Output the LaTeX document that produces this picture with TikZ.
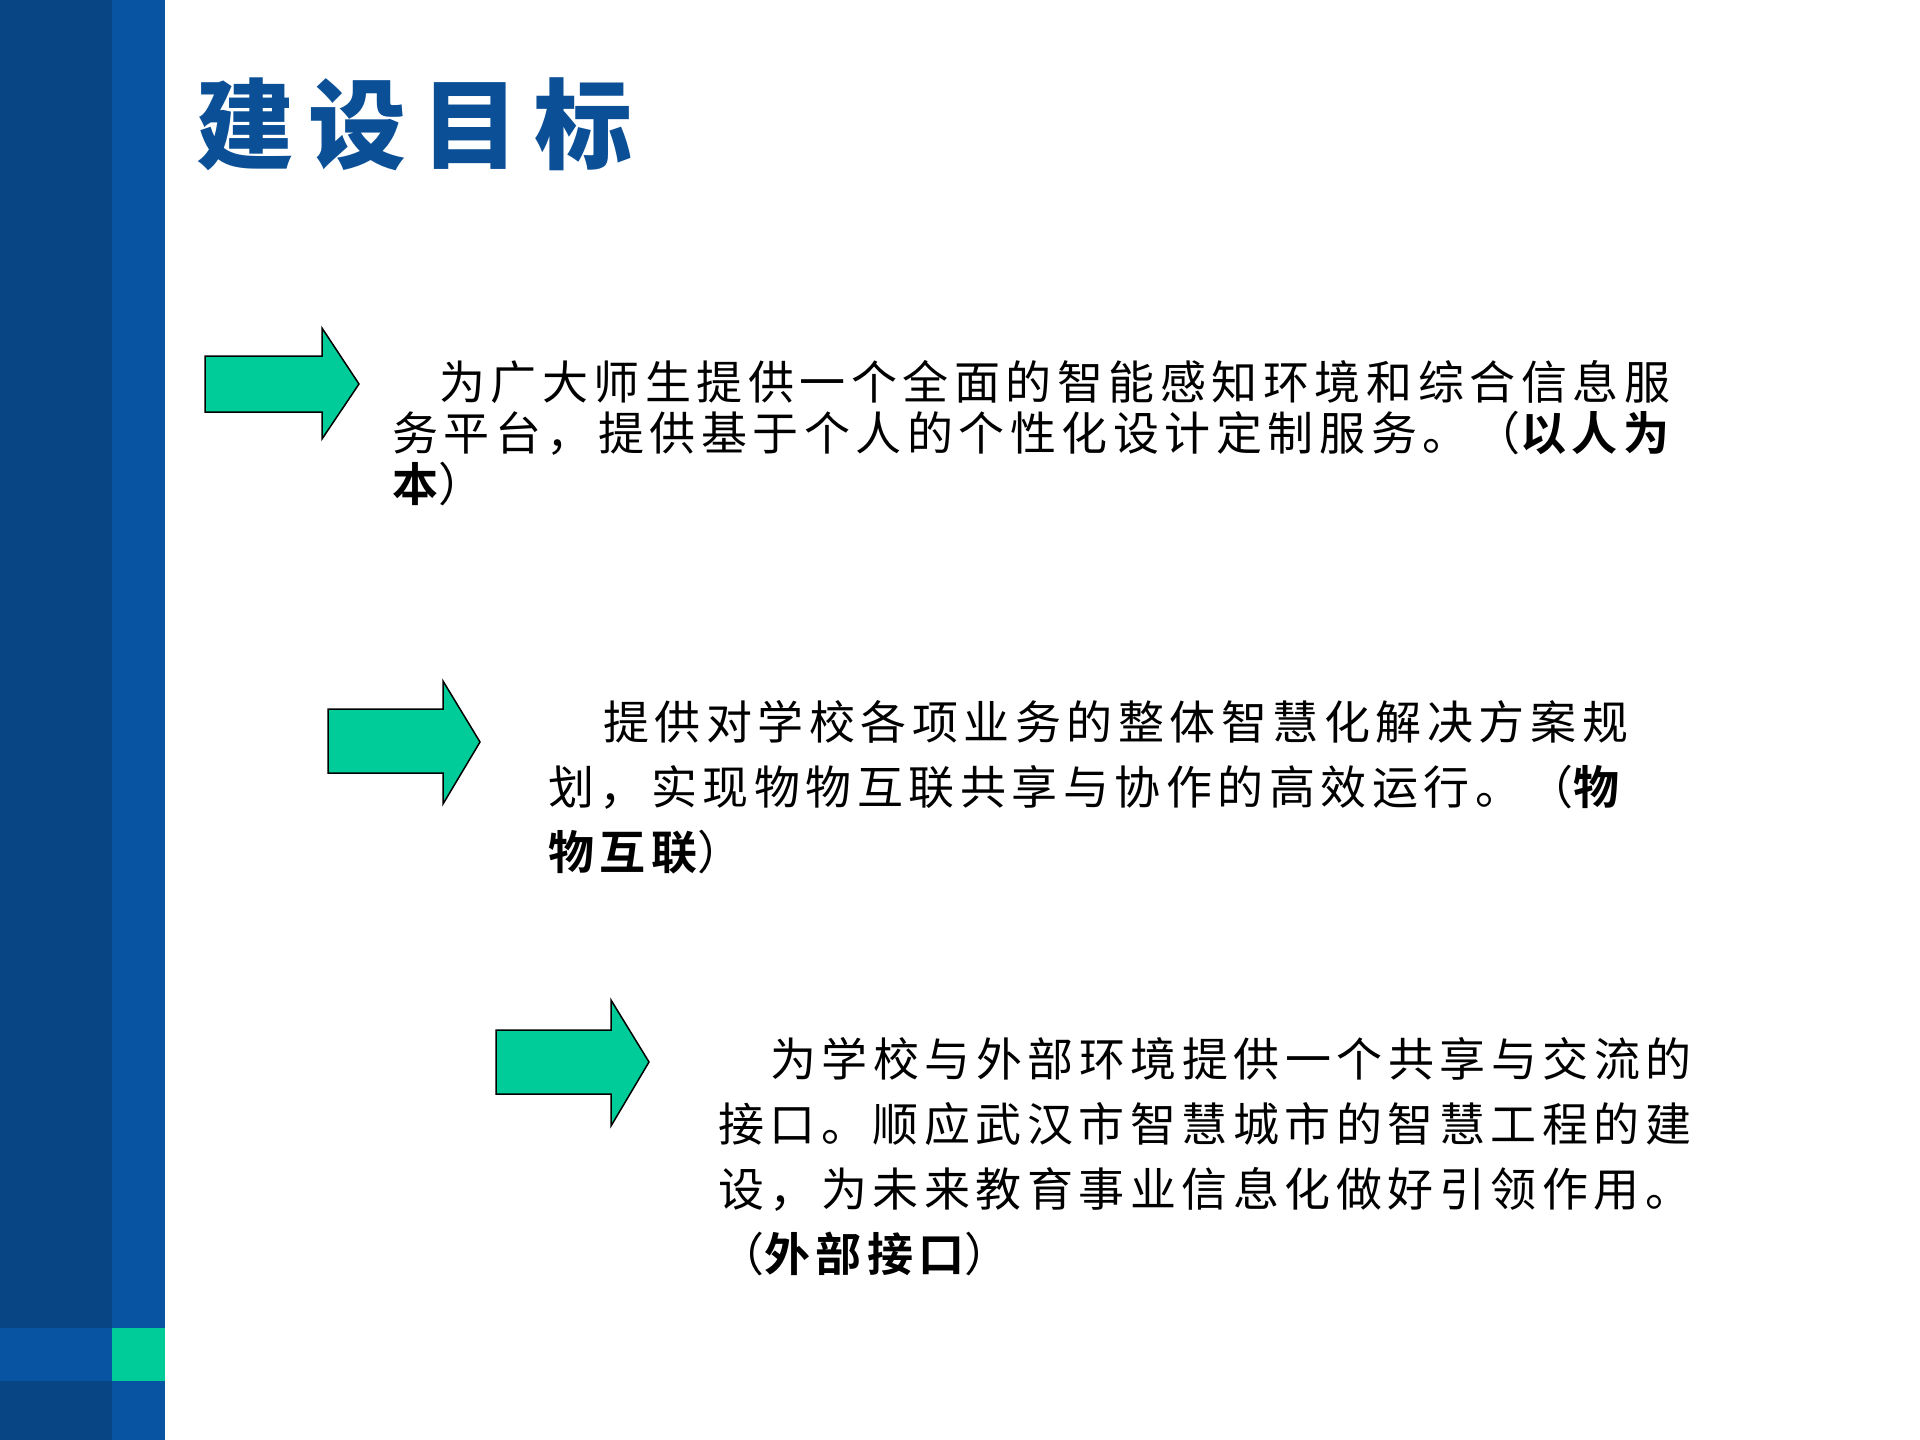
\documentclass[tikz,border=0pt]{standalone}
\usepackage{fontspec}
\newfontfamily\cjk[LetterSpace=12]{Noto Sans CJK SC}
\newfontfamily\cjkb[LetterSpace=12]{Noto Sans CJK SC Bold}
\newfontfamily\cjkt[LetterSpace=15]{Noto Sans CJK SC Black}
\definecolor{dkblue}{HTML}{084584}
\definecolor{ltblue}{HTML}{0953A3}
\definecolor{grn}{HTML}{00CC99}
\definecolor{ttl}{HTML}{0B4F96}
\begin{document}
\begin{tikzpicture}[x=1pt,y=-1pt,
  ln/.style={anchor=west,inner sep=0pt,font=\fontsize{46}{50}\cjk},
  arr/.style={fill=grn,draw=black,line width=1.5pt}]
\useasboundingbox (0,0) rectangle (1920,1440);
\fill[white] (0,0) rectangle (1920,1440);
\fill[dkblue] (0,0) rectangle (112,1440);
\fill[ltblue] (112,0) rectangle (165,1440);
\fill[ltblue] (0,1328) rectangle (112,1381);
\fill[grn] (112,1328) rectangle (165,1381);
\node[anchor=west,inner sep=0pt,text=ttl,font=\fontsize{98}{100}\cjkt] (title) at (196,124) {建设目标};
% arrows
\draw[arr] (205,356) -- (322,356) -- (322,328) -- (359,384) -- (322,439) -- (322,412) -- (205,412) -- cycle;
\draw[arr] (328,709) -- (443,709) -- (443,681) -- (480,742) -- (443,804) -- (443,773) -- (328,773) -- cycle;
\draw[arr] (496,1030) -- (611,1030) -- (611,1000) -- (649,1062) -- (611,1126) -- (611,1094) -- (496,1094) -- cycle;
% text 1
\node[ln] (a1) at (439,382) {为广大师生提供一个全面的智能感知环境和综合信息服};
\node[ln] (a2) at (392,433) {务平台，提供基于个人的个性化设计定制服务。（{\cjkb 以人为}};
\node[ln] (a3) at (392,484) {{\cjkb 本}）};
% text 2
\node[ln] (b1) at (603,722) {提供对学校各项业务的整体智慧化解决方案规};
\node[ln] (b2) at (548,787) {划，实现物物互联共享与协作的高效运行。（{\cjkb 物}};
\node[ln] (b3) at (548,852) {{\cjkb 物互联}）};
% text 3
\node[ln] (c1) at (770,1059) {为学校与外部环境提供一个共享与交流的};
\node[ln] (c2) at (718,1124) {接口。顺应武汉市智慧城市的智慧工程的建};
\node[ln] (c3) at (718,1189) {设，为未来教育事业信息化做好引领作用。};
\node[ln] (c4) at (718,1254) {（{\cjkb 外部接口}）};
\end{tikzpicture}
\end{document}
